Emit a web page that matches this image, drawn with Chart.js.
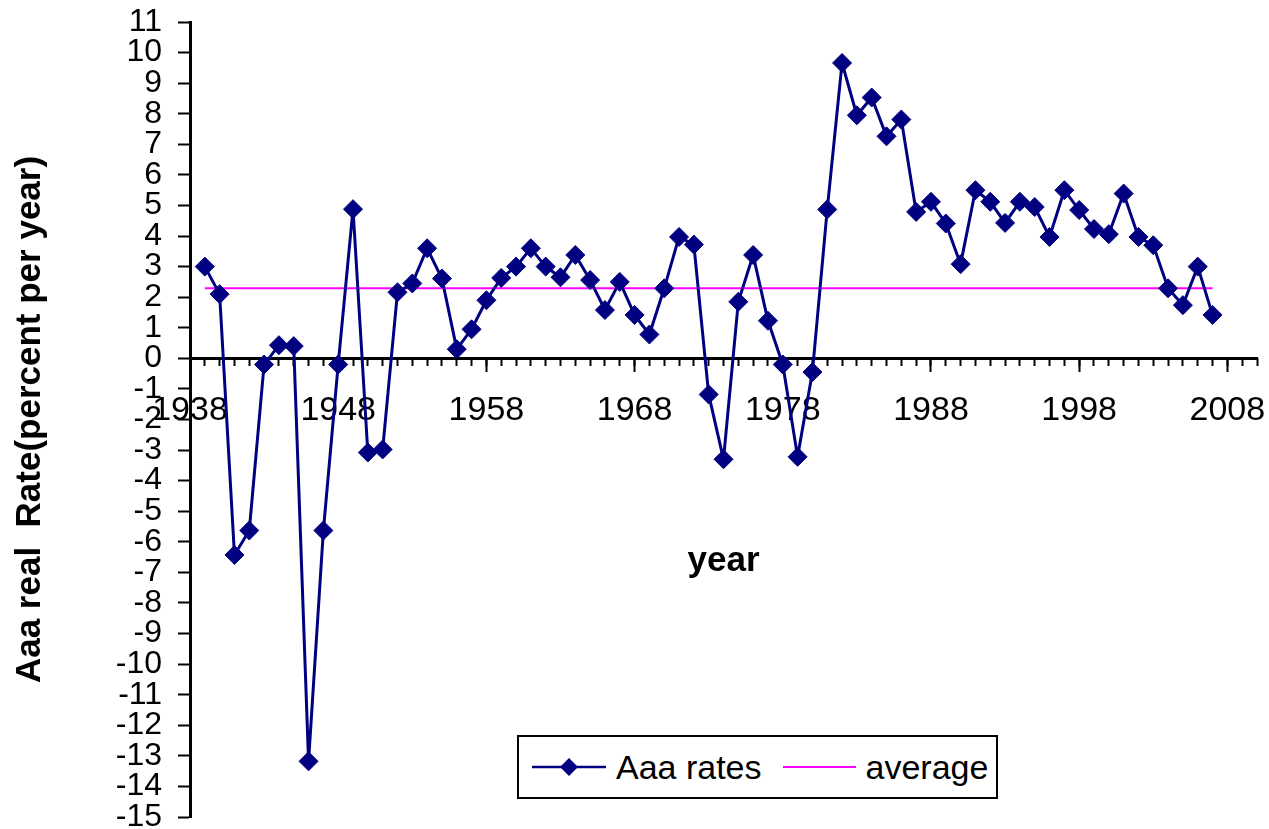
<!DOCTYPE html>
<html lang="en">

<head>
  <meta charset="UTF-8" />
  <title>Aaa real rate</title>
  <script src="https://cdn.jsdelivr.net/npm/chart.js"></script>
  <style>
    body {
      margin: 0;
      background: #fff;
    }

    .c-wrap {
      position: relative;
      width: 1269px;
      height: 829px;
    }

    #legend {
      position: absolute;
      left: 517px;
      top: 735px;
      width: 477px;
      height: 60px;
      border: 2px solid #000;
      background: #fff;
      display: flex;
      align-items: center;
      font-family: 'Liberation Sans', Arial, sans-serif;
      font-size: 34px;
      color: #000;
    }

    #legend .item {
      display: flex;
      align-items: center;
    }

    #legend svg {
      margin-right: 10px;
    }
  </style>
</head>

<body>

  <div class="c-wrap">
    <canvas id="myChart_rates" width="1269" height="829"></canvas>
    <div id="legend"></div>
  </div>

  <script>
    // years 1939 - 2007
    const years = [
      1939, 1940, 1941, 1942, 1943, 1944, 1945, 1946, 1947, 1948,
      1949, 1950, 1951, 1952, 1953, 1954, 1955, 1956, 1957, 1958,
      1959, 1960, 1961, 1962, 1963, 1964, 1965, 1966, 1967, 1968,
      1969, 1970, 1971, 1972, 1973, 1974, 1975, 1976, 1977, 1978,
      1979, 1980, 1981, 1982, 1983, 1984, 1985, 1986, 1987, 1988,
      1989, 1990, 1991, 1992, 1993, 1994, 1995, 1996, 1997, 1998,
      1999, 2000, 2001, 2002, 2003, 2004, 2005, 2006, 2007
    ];

    const aaaRates = [
      3.0, 2.1, -6.43, -5.63, -0.2, 0.43, 0.4, -13.18, -5.63, -0.2,
      4.88, -3.08, -2.98, 2.16, 2.45, 3.6, 2.61, 0.3, 0.95, 1.9,
      2.63, 3.0, 3.6, 3.0, 2.65, 3.38, 2.56, 1.58, 2.5, 1.42,
      0.78, 2.29, 3.97, 3.72, -1.18, -3.3, 1.85, 3.38, 1.23, -0.2,
      -3.22, -0.45, 4.87, 9.66, 7.95, 8.53, 7.26, 7.81, 4.79, 5.12,
      4.41, 3.08, 5.5, 5.12, 4.43, 5.12, 4.95, 3.97, 5.5, 4.85,
      4.23, 4.06, 5.39, 3.97, 3.7, 2.29, 1.74, 3.0, 1.42
    ];

    const averageRate = 2.29;

    const yearTicks = [1938, 1948, 1958, 1968, 1978, 1988, 1998, 2008];

    const seriesNames = ['Aaa rates', 'average'];

    const NAVY = '#000080';
    const MAGENTA = '#FF00FF';

    Chart.defaults.font.family = "'Liberation Sans', Arial, sans-serif";
    Chart.defaults.color = '#000';

    const rateData = years.map((yr, i) => ({ x: yr, y: aaaRates[i] }));
    const avgData = years.map(yr => ({ x: yr, y: averageRate }));

    const ctx = document.getElementById('myChart_rates');

    const chart = new Chart(ctx, {
      type: 'line',
      data: {
        datasets: [{
          label: seriesNames[0],
          data: rateData,
          borderColor: NAVY,
          backgroundColor: NAVY,
          borderWidth: 3,
          pointStyle: 'rectRot',
          pointRadius: 9.5,
          pointBorderWidth: 1,
          tension: 0,
        }, {
          label: seriesNames[1],
          data: avgData,
          borderColor: MAGENTA,
          backgroundColor: MAGENTA,
          borderWidth: 2,
          pointRadius: 0,
          tension: 0,
        }],
      },
      options: {
        responsive: false,
        animation: false,
        devicePixelRatio: 1,
        layout: {
          padding: { top: 22, right: 12, bottom: 12, left: 0 }
        },
        plugins: {
          legend: { display: false },
          tooltip: { enabled: false },
        },
        scales: {
          x: {
            type: 'linear',
            min: 1938,
            max: 2010,
            position: { y: 0 },
            afterBuildTicks: s => {
              s.ticks = yearTicks.map(v => ({ value: v }));
            },
            afterFit: s => {
              s.paddingLeft = 0;
              s.paddingRight = 0;
            },
            ticks: {
              autoSkip: false,
              maxRotation: 0,
              padding: 20,
              font: { size: 34 },
              callback: v => String(v),
            },
            grid: {
              drawOnChartArea: false,
              drawTicks: true,
              tickLength: 12,
              tickColor: '#000',
              tickWidth: 2,
            },
            border: { display: true, color: '#000', width: 3 },
            title: {
              display: true,
              text: 'year',
              font: { size: 35, weight: 'bold' },
              padding: { top: 89, bottom: 0 },
            },
          },
          xMinor: {
            type: 'linear',
            axis: 'x',
            min: 1938,
            max: 2010,
            position: { y: 0 },
            afterBuildTicks: s => {
              const t = [];
              for (let v = s.min; v <= s.max; v++) t.push({ value: v });
              s.ticks = t;
            },
            afterFit: s => {
              s.paddingLeft = 0;
              s.paddingRight = 0;
            },
            ticks: { display: false },
            grid: {
              drawOnChartArea: false,
              drawTicks: true,
              tickLength: 8,
              tickColor: '#000',
              tickWidth: 2,
            },
            border: { display: false },
          },
          y: {
            type: 'linear',
            min: -15,
            max: 11,
            afterFit: s => {
              s.width = 190;
              s.paddingTop = 0;
              s.paddingBottom = 0;
            },
            ticks: {
              stepSize: 1,
              autoSkip: false,
              maxTicksLimit: 100,
              padding: 16,
              font: { size: 32 },
            },
            grid: {
              drawOnChartArea: false,
              drawTicks: true,
              tickLength: 12,
              tickColor: '#000',
              tickWidth: 2,
            },
            border: { display: true, color: '#000', width: 3 },
            title: {
              display: true,
              text: 'Aaa real  Rate(percent per year)',
              font: { size: 35, weight: 'bold' },
              padding: { top: 9, bottom: 0 },
            },
          },
        },
      },
    });

    // legend drawn as html, built from the chart datasets
    function buildLegend(chart) {
      const box = document.getElementById('legend');
      const marks = [
        '<svg width="74" height="20"><line x1="0" y1="10" x2="74" y2="10" stroke="' + NAVY + '" stroke-width="2.5"/>' +
        '<polygon points="37,1 46,10 37,19 28,10" fill="' + NAVY + '"/></svg>',
        '<svg width="73" height="20"><line x1="0" y1="10" x2="73" y2="10" stroke="' + MAGENTA + '" stroke-width="2"/></svg>'
      ];
      const gaps = [13, 21];
      box.innerHTML = chart.data.datasets.map((ds, i) =>
        '<div class="item" style="margin-left:' + gaps[i] + 'px">' + marks[i] + '<span>' + ds.label + '</span></div>'
      ).join('');
    }
    buildLegend(chart);
  </script>

</body>

</html>
